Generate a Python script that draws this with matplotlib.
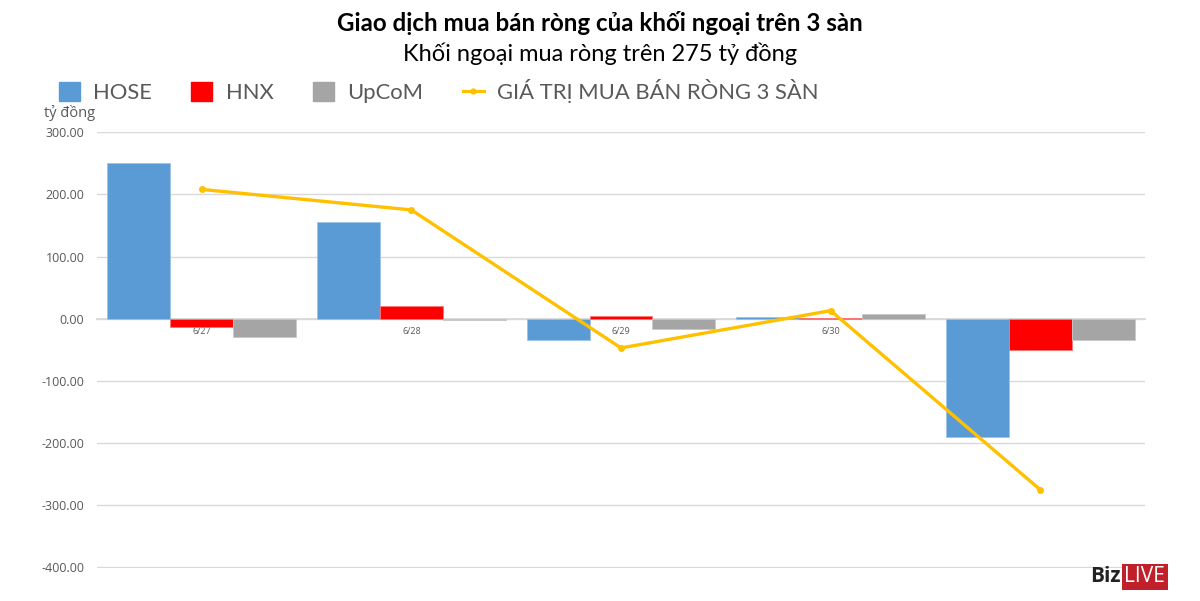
import numpy as np
import matplotlib.pyplot as plt
from matplotlib.patches import Patch
from matplotlib.lines import Line2D

dates = ['6/27', '6/28', '6/29', '6/30', '7/1']
hose = [250, 155, -35, 2, -191]
hnx = [-13, 21, 4, 1, -51]
upcom = [-30, -2, -16, 7, -34]
total = [208, 175, -47, 13, -275]

yticks = [300, 200, 100, 0, -100, -200, -300, -400]

c_hose = '#5b9bd5'
c_hnx = '#ff0000'
c_upcom = '#a5a5a5'
c_line = '#ffc000'
c_txt = '#595959'

plt.rcParams['font.family'] = ['Open Sans', 'DejaVu Sans']

fig = plt.figure(figsize=(12, 6.01), dpi=100)
ax = fig.add_axes([0.0808, 0.0549, 0.9542 - 0.0808, 0.780 - 0.0549])

x = np.arange(len(dates))
w = 0.3
ax.bar(x - w, hose, width=w, color=c_hose, edgecolor='#9dc3e6', linewidth=0.6, zorder=2)
ax.bar(x, hnx, width=w, color=c_hnx, edgecolor='#ff7777', linewidth=0.6, zorder=2)
ax.bar(x + w, upcom, width=w, color=c_upcom, edgecolor='#c8c8c8', linewidth=0.6, zorder=2)
ax.plot(x, total, color=c_line, lw=2.4, marker='o', ms=4, zorder=4)

ax.set_xlim(-0.5, len(dates) - 0.5)
ax.set_ylim(-401, 300)
ax.set_yticks(yticks)
ax.set_yticklabels(['%.2f' % v for v in yticks], fontsize=9, color=c_txt)
ax.tick_params(axis='y', length=0, pad=9)
ax.grid(axis='y', color='#d9d9d9', lw=1.0, zorder=0)
ax.set_axisbelow(True)

for s in ['top', 'right', 'left']:
    ax.spines[s].set_visible(False)
ax.spines['bottom'].set_position(('data', 0))
ax.spines['bottom'].set_color('#d9d9d9')
ax.spines['bottom'].set_linewidth(1.3)
ax.spines['bottom'].set_zorder(1)
ax.set_xticks(x)
ax.set_xticklabels(dates, fontsize=6.5, color=c_txt)
ax.tick_params(axis='x', length=0, pad=6)

ax.text(-0.026, 1.044, 'tỷ đồng', transform=ax.transAxes, fontsize=10.5,
        color=c_txt, ha='center', va='center')

fig.text(0.5, 0.962, 'Giao dịch mua bán ròng của khối ngoại trên 3 sàn',
         ha='center', va='center', fontsize=17.4, fontweight='bold',
         family=['Lato', 'DejaVu Sans'], color='black')
fig.text(0.5, 0.91, 'Khối ngoại mua ròng trên 275 tỷ đồng',
         ha='center', va='center', fontsize=17,
         family=['Lato', 'DejaVu Sans'], color='black')

handles = [Patch(color=c_hose), Patch(color=c_hnx), Patch(color=c_upcom),
           Line2D([0], [0], color=c_line, lw=2.2, marker='o', ms=3.5)]
labels = ['HOSE', 'HNX', 'UpCoM', 'GIÁ TRỊ MUA BÁN RÒNG 3 SÀN']
leg = fig.legend(handles, labels, loc='center left', bbox_to_anchor=(0.0325, 0.848),
                 ncol=4, frameon=False, handlelength=0.96,
                 handleheight=0.95, handletextpad=0.6, columnspacing=1.8,
                 prop={'family': ['Lato', 'DejaVu Sans'], 'size': 15.8})
for t in leg.get_texts():
    t.set_color(c_txt)

fig.text(0.934, 0.04, 'Biz', ha='right', va='center', fontsize=15,
         fontweight='bold', color='#222222', family=['Open Sans', 'DejaVu Sans'])
fig.text(0.937, 0.04, 'LIVE', ha='left', va='center', fontsize=15,
         color='white', family=['Open Sans', 'DejaVu Sans'],
         bbox=dict(boxstyle='square,pad=0.12', fc='#c0202a', ec='none'))

fig.savefig('out.png', dpi=100, facecolor='white')
